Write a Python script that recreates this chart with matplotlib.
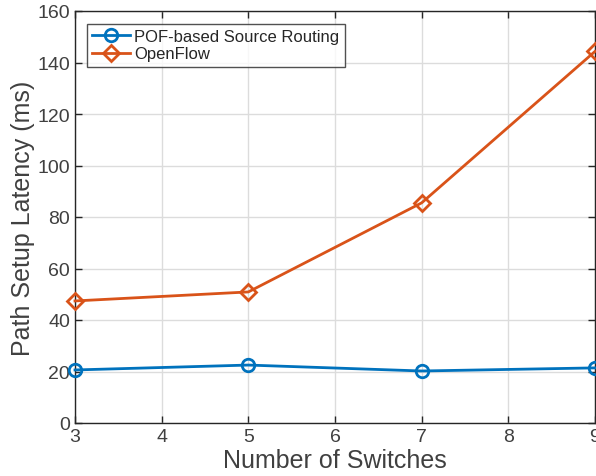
import matplotlib
matplotlib.use("Agg")
import matplotlib.pyplot as plt

switches = [3, 5, 7, 9]
pof_latency = [20.6, 22.5, 20.2, 21.4]
openflow_latency = [47.4, 50.9, 85.5, 144.3]
xticks = [3, 4, 5, 6, 7, 8, 9]
yticks = [0, 20, 40, 60, 80, 100, 120, 140, 160]

plt.rcParams['font.family'] = ['Liberation Sans', 'DejaVu Sans']
fig = plt.figure(figsize=(5.96, 4.77), dpi=100)
ax = fig.add_axes([75/596, 1-424/477, 520/596, 412/477])

c_ax = '#262626'
ax.plot(switches, pof_latency, '-o', color='#0072BD', lw=2, ms=9, mfc='none', mew=2,
        label='POF-based Source Routing', clip_on=False, zorder=3)
ax.plot(switches, openflow_latency, '-D', color='#D95319', lw=2, ms=8, mfc='none', mew=2,
        label='OpenFlow', clip_on=False, zorder=3)

ax.set_xlim(3, 9)
ax.set_ylim(0, 160)
ax.set_xticks(xticks)
ax.set_yticks(yticks)
ax.grid(True, color='#dcdcdc', lw=1)
ax.set_axisbelow(True)
ax.tick_params(direction='in', length=5, width=1, colors=c_ax, labelsize=14,
               top=True, right=True, labelcolor='#404040')
for s in ax.spines.values():
    s.set_color(c_ax)
    s.set_linewidth(1)
ax.set_xlabel('Number of Switches', fontsize=18, color='#404040', labelpad=2)
ax.set_ylabel('Path Setup Latency (ms)', fontsize=18, color='#404040', labelpad=2)
leg = ax.legend(loc='upper left', bbox_to_anchor=(12/520, 1-13/412), fontsize=12,
                frameon=True, fancybox=False, edgecolor=c_ax, borderpad=0.3,
                handlelength=2.3, handletextpad=0.25, labelspacing=0.15, borderaxespad=0)
leg.get_frame().set_linewidth(1)
for t in leg.get_texts():
    t.set_color('#262626')
fig.savefig('out.png', dpi=100)
